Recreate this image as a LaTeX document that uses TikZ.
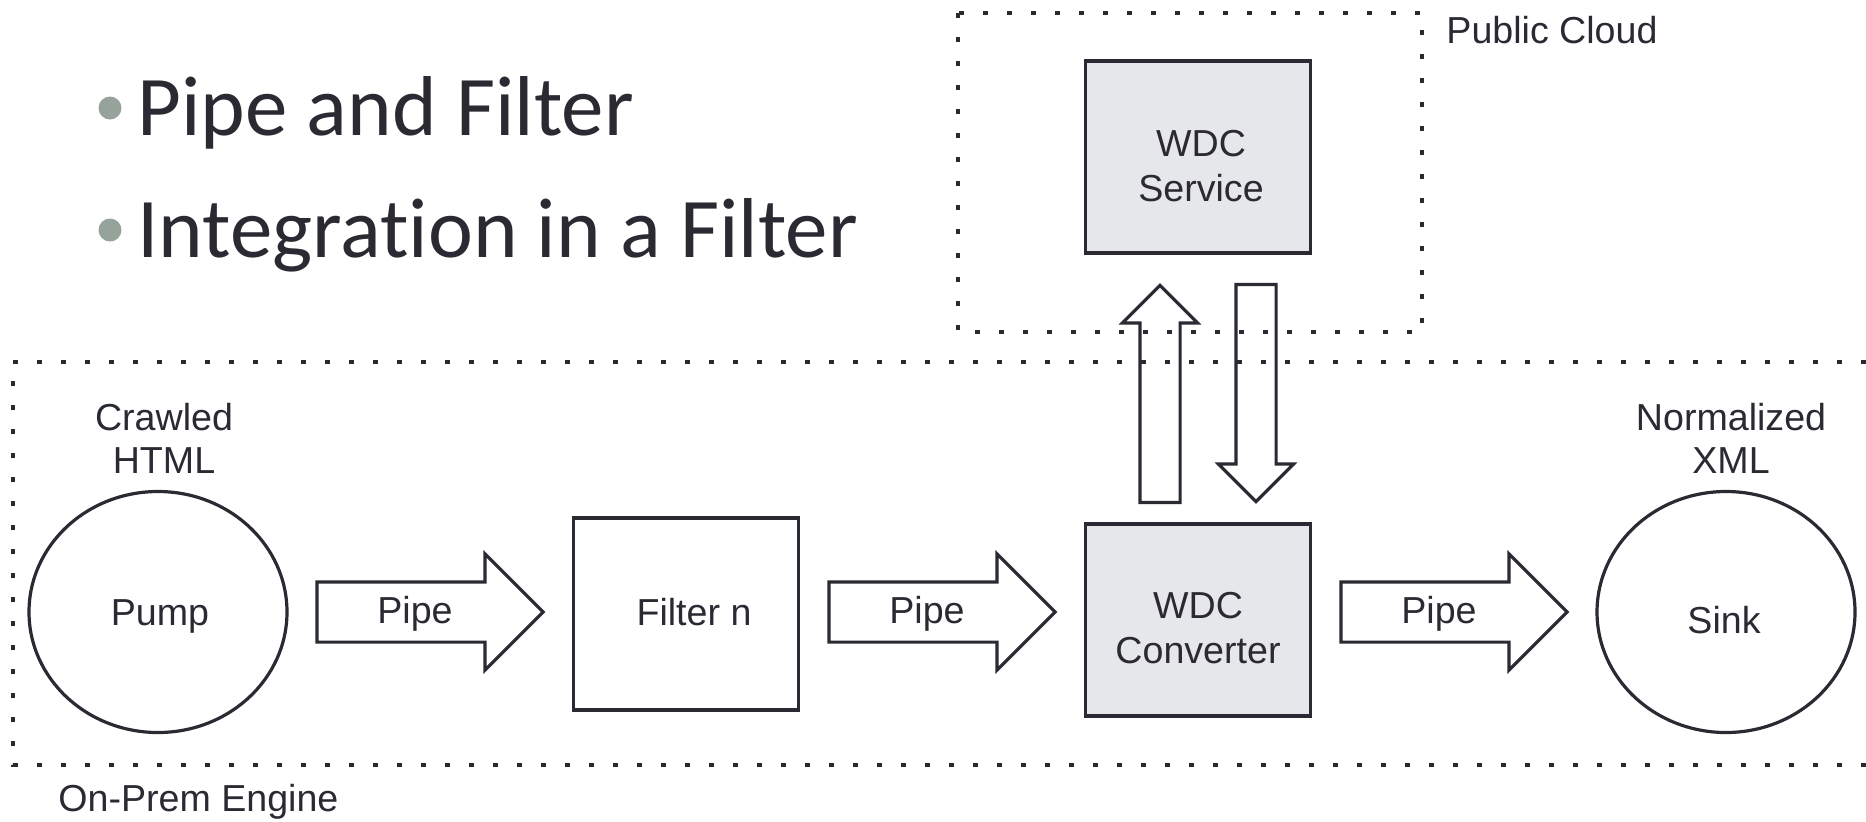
\documentclass[tikz,border=0pt]{standalone}
\usepackage{fontspec}
\setmainfont{Liberation Sans}
\newfontfamily\slidefont[Ligatures=CommonOff]{Carlito}
\usetikzlibrary{shapes.geometric,shapes.arrows}
\definecolor{ink}{HTML}{2B2A33}
\definecolor{boxgray}{HTML}{E6E7EA}
\definecolor{dotgray}{HTML}{95A39A}
\tikzset{
  outline/.style={draw=ink,line width=1.6pt,text=ink,font=\fontsize{18.8}{22.5}\selectfont},
  filterbox/.style={outline,minimum width=112.5pt,minimum height=96pt,inner sep=0pt},
  svcbox/.style={filterbox,fill=boxgray},
  endpoint/.style={outline,ellipse,minimum width=129pt,minimum height=120.5pt,inner sep=0pt},
  pipe/.style={outline,single arrow,single arrow head extend=14pt,minimum height=113pt,
    text height=13.8pt,text depth=2.2pt,inner ysep=6.25pt,inner xsep=0pt},
  vpipe/.style={outline,single arrow,single arrow head extend=8.75pt,minimum height=108.5pt,inner sep=9.25pt},
  zone/.style={draw=ink,line width=2.1pt,dash pattern=on 2.5pt off 9.5pt},
  lbl/.style={text=ink,font=\fontsize{18.8}{21.5}\selectfont,align=center,inner sep=0pt},
  bullet/.style={text=ink,font=\slidefont\fontsize{42.5}{50}\selectfont,anchor=base west,inner sep=0pt},
}
\begin{document}
\begin{tikzpicture}[x=0.5pt,y=-0.5pt]
  \useasboundingbox (0,0) rectangle (1866,821);
  % slide bullets
  \fill[dotgray] (110,108) circle (5.75pt);
  \fill[dotgray] (110,230) circle (5.75pt);
  \node[bullet] (t1) at (137,135) {Pipe and Filter};
  \node[bullet] (t2) at (137,257) {Integration in a Filter};
  % zones
  \draw[zone] (958,13) rectangle (1422,332);
  \draw[zone] (1866,362) -- (13,362) -- (13,765) -- (1866,765);
  \node[lbl,anchor=west] (cloud) at (1446,30) {Public Cloud};
  \node[lbl,anchor=west] (prem) at (58,802) {On-Prem Engine};
  % filters
  \node[endpoint] (pump) at (158,612) {};
  \node[filterbox] (filter) at (686,614) {};
  \node[svcbox] (conv) at (1198,620) {};
  \node[svcbox] (svc) at (1198,157) {};
  \node[endpoint] (sink) at (1726,612) {};
  \node[lbl] (pumptxt) at (160,616) {Pump};
  \node[lbl] (filtertxt) at (694,612) {Filter n};
  \node[lbl,font=\fontsize{18.8}{22.5}\selectfont] (convtxt) at (1198,628) {WDC\\Converter};
  \node[lbl,font=\fontsize{18.8}{22.5}\selectfont] (svctxt) at (1201,166) {WDC\\Service};
  \node[lbl] (sinktxt) at (1724,620) {Sink};
  \node[lbl] (html) at (164,438) {Crawled\\HTML};
  \node[lbl] (xml) at (1731,438) {Normalized\\XML};
  % pipes
  \foreach \x/\n in {415/pa,927/pb,1439/pc}
    \node[pipe] (\n) at (\x,612) {Pipe};
  \node[vpipe,shape border rotate=90] (up) at (1160,404) {};
  \node[vpipe,shape border rotate=270] (down) at (1256,383) {};
\end{tikzpicture}
\end{document}
